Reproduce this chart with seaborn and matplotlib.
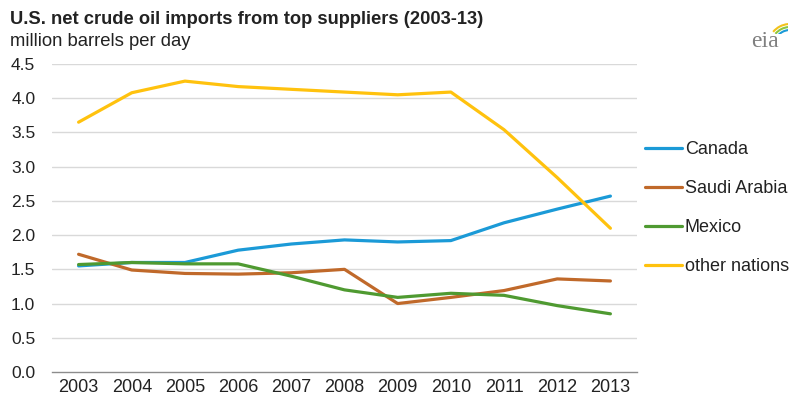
import numpy as np
import pandas as pd
import matplotlib
matplotlib.use("Agg")
import matplotlib.pyplot as plt
from matplotlib.lines import Line2D
from matplotlib.patches import Arc
import seaborn as sns

years = ["2003", "2004", "2005", "2006", "2007", "2008", "2009", "2010", "2011", "2012", "2013"]
canada = [1.55, 1.60, 1.60, 1.78, 1.87, 1.93, 1.90, 1.92, 2.18, 2.38, 2.57]
saudi_arabia = [1.72, 1.49, 1.44, 1.43, 1.45, 1.50, 1.00, 1.09, 1.19, 1.36, 1.33]
mexico = [1.57, 1.60, 1.58, 1.58, 1.40, 1.20, 1.09, 1.15, 1.12, 0.97, 0.85]
other_nations = [3.65, 4.08, 4.25, 4.17, 4.13, 4.09, 4.05, 4.09, 3.54, 2.84, 2.10]

series_names = ["Canada", "Saudi Arabia", "Mexico", "other nations"]
series_values = [canada, saudi_arabia, mexico, other_nations]
colors = ["#1b9ad7", "#c0692a", "#4f9a31", "#ffc20e"]
y_ticks = [0.0, 0.5, 1.0, 1.5, 2.0, 2.5, 3.0, 3.5, 4.0, 4.5]

df = pd.DataFrame(
    [(i, y, name, v)
     for name, vals in zip(series_names, series_values)
     for i, (y, v) in enumerate(zip(years, vals))],
    columns=["pos", "year", "series", "value"],
)

sns.set_theme(style="white")
plt.rcParams["font.family"] = ["Liberation Sans", "DejaVu Sans"]
text_color = "#222222"

fig = plt.figure(figsize=(7.95, 4.0), dpi=100)
ax = fig.add_axes([52 / 795, 28 / 400, 585 / 795, 308 / 400])

sns.lineplot(data=df, x="pos", y="value", hue="series", hue_order=series_names,
             palette=colors, linewidth=2.3, legend=False, ax=ax, sort=False)

ax.set_xlim(-0.5, len(years) - 0.5)
ax.set_ylim(0, 4.5)
ax.set_yticks(y_ticks)
ax.set_yticklabels([f"{t:.1f}" for t in y_ticks], fontsize=12.5, color=text_color)
ax.set_xticks(range(len(years)))
ax.set_xticklabels(years, fontsize=13, color=text_color)
ax.set_xticks(np.arange(-0.5, len(years), 1.0), minor=True)
ax.tick_params(axis="x", which="major", length=0, pad=5)
ax.tick_params(axis="x", which="minor", length=4, width=0.9, color="#8c8c8c", direction="out")
ax.tick_params(axis="y", length=0, pad=12)
ax.set_xlabel("")
ax.set_ylabel("")

for t in y_ticks[1:]:
    ax.axhline(t, color="#d9d9d9", linewidth=1.0, zorder=0)

for side in ["left", "right", "top"]:
    ax.spines[side].set_visible(False)
ax.spines["bottom"].set_color("#8c8c8c")
ax.spines["bottom"].set_linewidth(1.0)

handles = [Line2D([0], [0], color=c, linewidth=2.3) for c in colors]
fig.legend(handles, series_names, loc="upper left", bbox_to_anchor=(645 / 795, 1 - 141 / 400),
           frameon=False, fontsize=13, labelspacing=1.22, handlelength=2.05,
           handletextpad=0.15, borderpad=0, borderaxespad=0, labelcolor=text_color)

fig.text(10 / 795, 1 - 24 / 400, "U.S. net crude oil imports from top suppliers (2003-13)",
         fontsize=13.2, fontweight="bold", color=text_color, ha="left", va="baseline")
fig.text(10 / 795, 1 - 46 / 400, "million barrels per day",
         fontsize=13.3, color=text_color, ha="left", va="baseline")

# eia logo
fig.text(765 / 795, 1 - 47 / 400, "eia", fontsize=17, family=["Liberation Serif", "DejaVu Serif"],
         color="#808080", ha="center", va="baseline")
logo_ax = fig.add_axes([756 / 795, 1 - 34 / 400, 32 / 795, 14 / 400])
logo_ax.set_xlim(0, 32)
logo_ax.set_ylim(0, 14)
logo_ax.axis("off")
for r, c, lw in [(22, "#f2c21b", 1.5), (19, "#8cc63f", 1.5), (16, "#1b9ad7", 1.5)]:
    logo_ax.add_patch(Arc((34, -12), 2 * r, 2 * r, theta1=95, theta2=140, color=c, lw=lw))

fig.savefig("out.png", dpi=100, facecolor="white")
